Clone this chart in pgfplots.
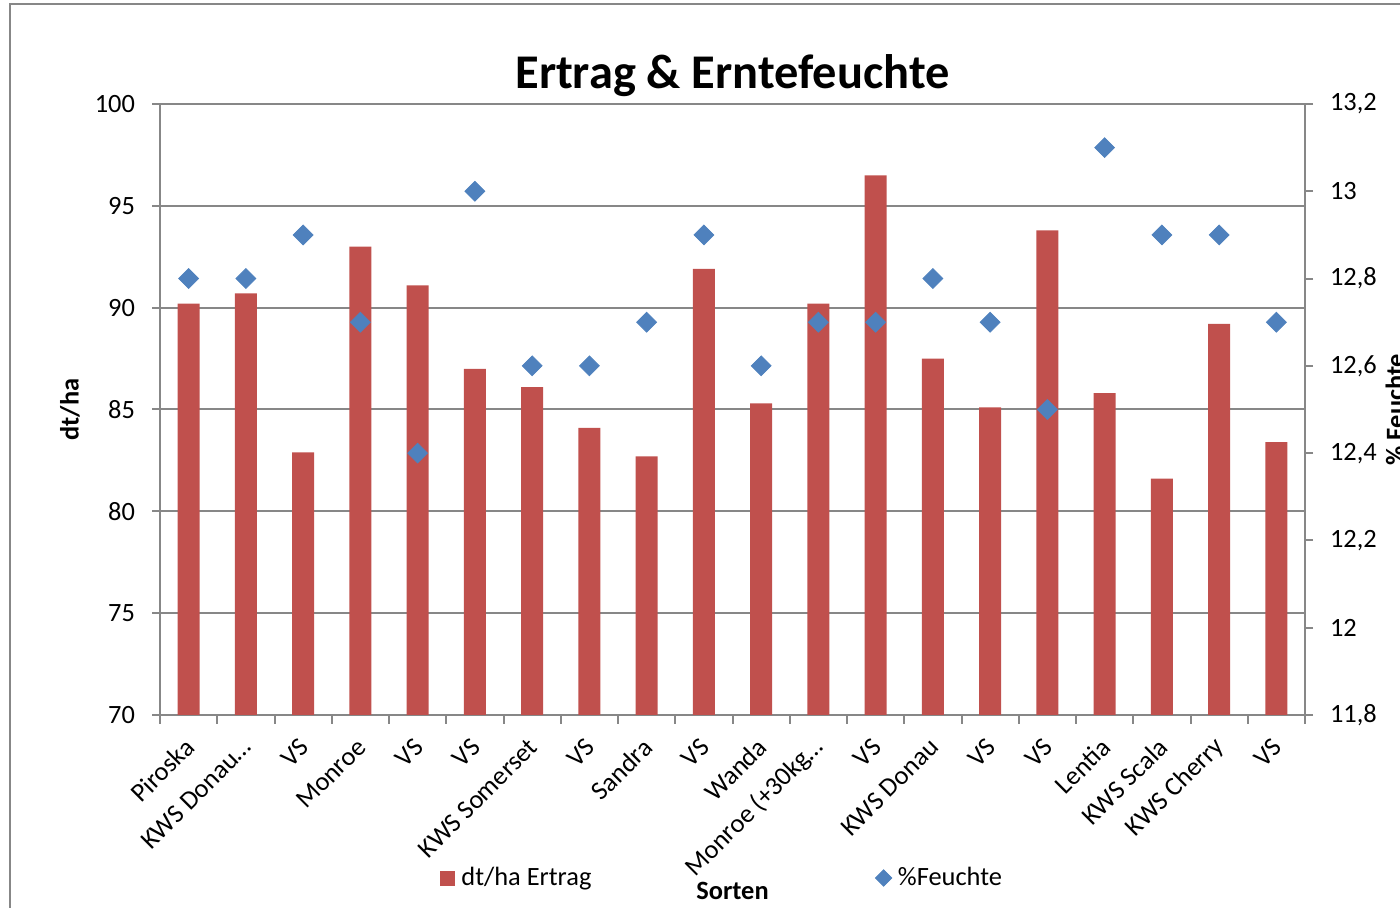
\documentclass[border=0pt]{standalone}
\usepackage{pgfplots}
\pgfplotsset{compat=1.18}
\usepackage{fontspec}
\setmainfont{Carlito}
\definecolor{barred}{HTML}{C0504D}
\definecolor{dblue}{HTML}{4F81BD}
\definecolor{axgray}{HTML}{878787}
\newcommand{\tickfont}{\fontsize{13.2}{15}\selectfont}
\begin{document}
\begin{tikzpicture}
\draw[axgray, line width=1pt] (5pt,-5pt) -- (5pt,452pt) -- (710pt,452pt);
\begin{axis}[
  at={(80pt,96.5pt)}, anchor=south west,
  scale only axis, width=572.5pt, height=305.5pt,
  xmin=-0.5, xmax=19.5, ymin=70, ymax=100,
  axis x line*=bottom, axis y line*=left,
  axis line style={draw=axgray, line width=1pt, -},
  ytick={70,75,...,100},
  ymajorgrids, grid style={draw=axgray, line width=1pt},
  tick align=outside, major tick length=4pt, minor tick length=4.5pt,
  tick style={draw=axgray, line width=1pt},
  major x tick style={draw=none},
  minor xtick={-0.5,0.5,...,19.5},
  xtick={0,...,19},
  xticklabels={Piroska, KWS Donau…, VS, Monroe, VS, VS, KWS Somerset, VS, Sandra, VS, Wanda, Monroe (+30kg…, VS, KWS Donau, VS, VS, Lentia, KWS Scala, KWS Cherry, VS},
  x tick label style={xshift=3pt, yshift=-7.5pt, rotate=45, anchor=east, font=\tickfont},
  y tick label style={xshift=-5pt, font=\tickfont},
  /pgf/number format/assume math mode=true,
  title={Ertrag \& Erntefeuchte},
  title style={at={(axis description cs:0.5,1)}, anchor=base, yshift=1.5pt, font=\fontsize{24.2}{28}\selectfont\bfseries},
  xlabel={Sorten},
  xlabel style={at={(axis description cs:0.5,0)}, anchor=center, yshift=-88pt, font=\tickfont\bfseries},
  ylabel={dt/ha},
  ylabel style={at={(axis description cs:-0.0786,0.5)}, anchor=center, font=\tickfont\bfseries},
  legend columns=2,
  legend style={at={(axis description cs:0.2393,-0.2668)}, anchor=west, draw=none, fill=none,
    font=\tickfont, nodes={inner sep=0pt},
    /tikz/every odd column/.append style={column sep=3pt},
    /tikz/every even column/.append style={column sep=142pt}},
  clip=true,
]
\addplot[ybar, bar width=11pt, fill=barred, draw=none,
  legend image code/.code={\fill[barred] (0pt,-3.75pt) rectangle (7.5pt,3.75pt);}]
  coordinates {(0,90.2) (1,90.7) (2,82.9) (3,93.0) (4,91.1) (5,87.0) (6,86.1) (7,84.1) (8,82.7) (9,91.9)
  (10,85.3) (11,90.2) (12,96.5) (13,87.5) (14,85.1) (15,93.8) (16,85.8) (17,81.6) (18,89.2) (19,83.4)};
\addlegendentry{dt/ha Ertrag}
\addlegendimage{only marks, mark=square*, mark size=2.9pt, mark options={rotate=45, fill=dblue, draw=dblue}}
\addlegendentry{\%Feuchte}
\end{axis}
\begin{axis}[
  at={(80pt,96.5pt)}, anchor=south west,
  scale only axis, width=572.5pt, height=305.5pt,
  xmin=-0.5, xmax=19.5, ymin=11.8, ymax=13.2,
  axis x line=none, axis y line*=right,
  axis line style={draw=axgray, line width=1pt, -},
  tick align=outside, major tick length=4pt,
  tick style={draw=axgray, line width=1pt},
  ytick={11.8,12,12.2,12.4,12.6,12.8,13,13.2},
  yticklabels={{11,8},{12},{12,2},{12,4},{12,6},{12,8},{13},{13,2}},
  y tick label style={xshift=5pt, font=\tickfont},
  ylabel={\% Feuchte},
  ylabel style={at={(axis description cs:1.0786,0.5)}, anchor=center, font=\tickfont\bfseries},
  clip=false,
]
\addplot[only marks, mark=square*, mark size=3.5pt, mark options={rotate=45, fill=dblue, draw=dblue}]
  coordinates {(0,12.8) (1,12.8) (2,12.9) (3,12.7) (4,12.4) (5,13.0) (6,12.6) (7,12.6) (8,12.7) (9,12.9)
  (10,12.6) (11,12.7) (12,12.7) (13,12.8) (14,12.7) (15,12.5) (16,13.1) (17,12.9) (18,12.9) (19,12.7)};
\end{axis}
\pgfresetboundingbox
\useasboundingbox (0pt,0pt) rectangle (700pt,454pt);
\end{tikzpicture}
\end{document}
